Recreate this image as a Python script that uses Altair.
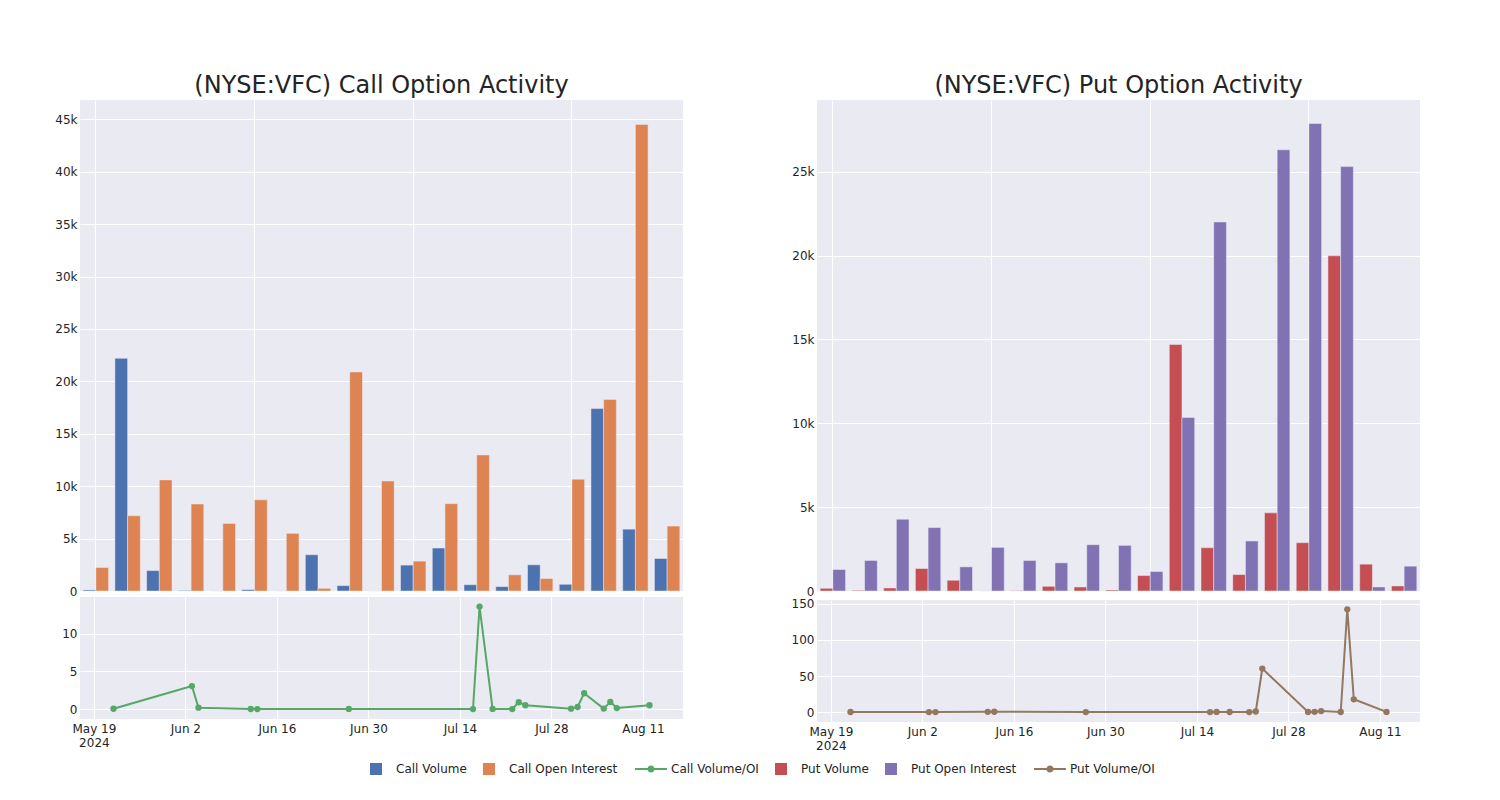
import altair as alt
import pandas as pd

# ---------------- data ----------------
dates = ["2024-05-22", "2024-06-03", "2024-06-04", "2024-06-12", "2024-06-13",
         "2024-06-27", "2024-07-16", "2024-07-17", "2024-07-19", "2024-07-22",
         "2024-07-23", "2024-07-24", "2024-07-31", "2024-08-01", "2024-08-02",
         "2024-08-05", "2024-08-06", "2024-08-07", "2024-08-12"]

call_volume = [100, 22200, 1950, 50, 0, 130, 0, 3460, 510, 0,
               2470, 4100, 600, 420, 2500, 640, 17400, 5900, 3100]
call_oi = [2240, 7180, 10600, 8300, 6440, 8700, 5500, 250, 20900, 10500,
           2850, 8330, 12980, 1540, 1190, 10670, 18280, 44500, 6190]
call_ratio = [0.04, 3.05, 0.18, 0.01, 0.0, 0.02, 0.0, 13.6, 0.02, 0.0,
              0.9, 0.5, 0.05, 0.27, 2.1, 0.06, 0.95, 0.13, 0.5]

put_volume = [160, 40, 180, 1340, 640, 0, 20, 280, 240, 60,
              920, 14700, 2580, 980, 4660, 2880, 19980, 1600, 300]
put_oi = [1280, 1820, 4280, 3780, 1440, 2600, 1820, 1680, 2760, 2720,
          1160, 10340, 22000, 2980, 26300, 27870, 25300, 240, 1480]
put_ratio = [0.1, 0.0, 0.0, 0.35, 0.45, 0.0, 0.0, 0.17, 0.09, 0.02,
             0.8, 60.3, 0.12, 0.33, 1.4, 0.1, 142.5, 17.7, 0.2]

series_names = ["Call Volume", "Call Open Interest", "Call Volume/OI",
                "Put Volume", "Put Open Interest", "Put Volume/OI"]
series_colors = ["#4C72B0", "#DD8452", "#55A868", "#C44E52", "#8172B3", "#937860"]

line_tick_dates = ["2024-05-19", "2024-06-02", "2024-06-16", "2024-06-30",
                   "2024-07-14", "2024-07-28", "2024-08-11"]
date_domain = ["2024-05-16T21:00:00", "2024-08-17T03:00:00"]

call_bar_ticks = [0, 5000, 10000, 15000, 20000, 25000, 30000, 35000, 40000, 45000]
put_bar_ticks = [0, 5000, 10000, 15000, 20000, 25000]
call_line_ticks = [0, 5, 10]
put_line_ticks = [0, 50, 100, 150]

titles = ["(NYSE:VFC) Call Option Activity", "(NYSE:VFC) Put Option Activity"]

# ---------------- helpers ----------------
def ms(s):
    return int(pd.Timestamp(s, tz="UTC").value // 10**6)

tick_ms = [ms(d) for d in line_tick_dates]
domain_ms = [ms(d) for d in date_domain]

LINE_SYM = ("M-2.67,-0.17L2.67,-0.17L2.67,0.17L-2.67,0.17Z "
            "M0.6,0A0.6,0.6 0 1,1 -0.6,0A0.6,0.6 0 1,1 0.6,0Z")
shape_range = ["square", "square", LINE_SYM, "square", "square", LINE_SYM]

color_scale = alt.Scale(domain=series_names, range=series_colors)
shape_scale = alt.Scale(domain=series_names, range=shape_range)

legend_props = dict(
    title=None, orient="none", direction="horizontal",
    legendX=290, legendY=663,
    symbolSize=144, symbolOpacity=1, symbolStrokeWidth=0,
    labelFont="DejaVu Sans", labelFontSize=12, labelColor="#242424",
    labelOffset=14, columnPadding=16, labelLimit=300,
)


def color_enc():
    return alt.Color("series:N", scale=color_scale, legend=alt.Legend(**legend_props))


W, H_BAR, H_LINE = 603, 491, 122


def bar_panel(vol, oi, names, ymax, yticks, title):
    rows = []
    for d, v, o in zip(dates, vol, oi):
        rows.append({"date": d, "series": names[0], "value": v})
        rows.append({"date": d, "series": names[1], "value": o})
    df = pd.DataFrame(rows)
    return alt.Chart(df).mark_bar(
        stroke="#EAEAF2", strokeWidth=0.5
    ).encode(
        x=alt.X("date:N", sort=dates,
                scale=alt.Scale(paddingInner=0.2, paddingOuter=0.1),
                axis=alt.Axis(values=[dates[0], dates[5], dates[10], dates[15]],
                              labels=False, ticks=False, domain=False, title=None,
                              grid=True, bandPosition=0.5, labelPadding=0,
                              minExtent=0, maxExtent=0)),
        xOffset=alt.XOffset("series:N", sort=names,
                            scale=alt.Scale(domain=names, paddingInner=0, paddingOuter=0)),
        y=alt.Y("value:Q", scale=alt.Scale(domain=[0, ymax], nice=False),
                axis=alt.Axis(values=yticks, format="~s", title=None,
                              labelExpr="datum.value == 0 ? '0' : datum.label")),
        color=color_enc(),
    ).properties(width=W, height=H_BAR,
                 title=alt.TitleParams(title, fontSize=24, offset=2))


def line_panel(ratio, name, ydom, yticks, with_legend):
    df = pd.DataFrame({"date": dates, "ratio": ratio, "series": name})
    label_expr = ("utcFormat(datum.value, '%m-%d') == '05-19' ? "
                  "[utcFormat(datum.value, '%b %-d'), utcFormat(datum.value, '%Y')] : "
                  "utcFormat(datum.value, '%b %-d')")
    base = alt.Chart(df).encode(
        x=alt.X("date:T",
                scale=alt.Scale(type="utc", domain=domain_ms, nice=False),
                axis=alt.Axis(values=tick_ms, labelExpr=label_expr, title=None,
                              grid=True, labelPadding=4)),
        y=alt.Y("ratio:Q", scale=alt.Scale(domain=ydom, nice=False, zero=False),
                axis=alt.Axis(values=yticks, title=None)),
    )
    line = base.mark_line(strokeWidth=2).encode(color=color_enc())
    pts = base.mark_circle(size=40, opacity=1).encode(color=color_enc())
    layers = [line, pts]
    if with_legend:
        dummy = base.mark_point(filled=True, opacity=0).encode(
            color=color_enc(),
            shape=alt.Shape("series:N", scale=shape_scale,
                            legend=alt.Legend(**legend_props)),
        )
        layers.append(dummy)
    return alt.layer(*layers).properties(width=W, height=H_LINE)


call_col = alt.vconcat(
    bar_panel(call_volume, call_oi, series_names[0:2], 46840, call_bar_ticks, titles[0]),
    line_panel(call_ratio, series_names[2], [-1.32, 14.87], call_line_ticks, True),
    spacing=0,
).resolve_scale(xOffset="independent")
put_col = alt.vconcat(
    bar_panel(put_volume, put_oi, series_names[3:5], 29270, put_bar_ticks, titles[1]),
    line_panel(put_ratio, series_names[5], [-13.8, 155.5], put_line_ticks, False),
    spacing=0,
).resolve_scale(xOffset="independent")

chart = alt.hconcat(call_col, put_col, spacing=94).resolve_scale(
    xOffset="independent"
).configure(
    background="white",
    padding={"left": 32, "top": 66, "right": 10, "bottom": 10},
).configure_view(
    fill="#EAEAF2", stroke=None,
).configure_axis(
    grid=True, gridColor="white", gridWidth=1, domain=False, ticks=False,
    labelFont="DejaVu Sans", labelFontSize=12, labelColor="#242424",
    labelPadding=3,
).configure_axisY(
    minExtent=40, maxExtent=40,
).configure_title(
    font="DejaVu Sans", fontSize=24, fontWeight="normal", color="#242424",
    anchor="middle",
).configure_legend(
    symbolOpacity=1,
)

chart.save("out.html", embed_options={"renderer": "svg", "actions": False})
